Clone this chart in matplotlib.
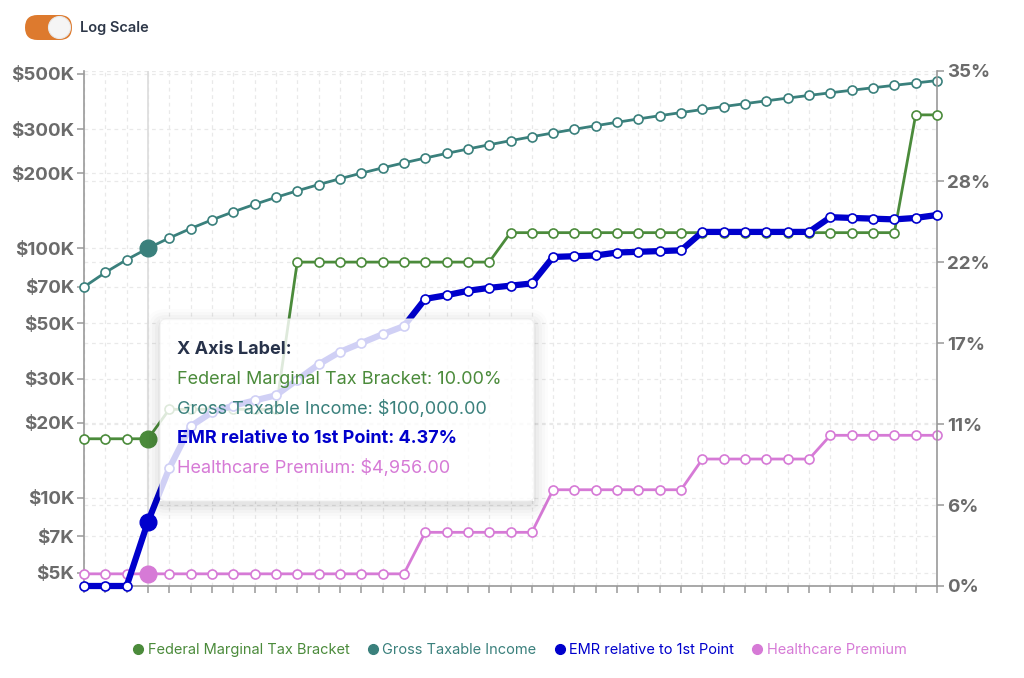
import matplotlib.pyplot as plt
from matplotlib.lines import Line2D
from matplotlib.patches import FancyBboxPatch, Circle, PathPatch
from matplotlib.path import Path
from matplotlib.transforms import IdentityTransform

plt.rcParams['font.family'] = ['Inter', 'DejaVu Sans']

# Series values (41 points along the x axis)
gross_income = [70000, 80000, 90000, 100000, 110000, 120000, 130000, 140000, 150000, 160000,
                170000, 180000, 190000, 200000, 210000, 220000, 230000, 240000, 250000, 260000,
                270000, 280000, 290000, 300000, 310000, 320000, 330000, 340000, 350000, 360000,
                370000, 380000, 390000, 400000, 410000, 420000, 430000, 440000, 450000, 460000,
                470000]
healthcare = [4956, 4956, 4956, 4956, 4956, 4956, 4956, 4956, 4956, 4956,
              4956, 4956, 4956, 4956, 4956, 4956, 7270, 7270, 7270, 7270,
              7270, 7270, 10770, 10770, 10770, 10770, 10770, 10770, 10770, 14300,
              14300, 14300, 14300, 14300, 14300, 17800, 17800, 17800, 17800, 17800,
              17800]
fed_bracket = [10, 10, 10, 10, 12, 12, 12, 12, 12, 12,
               22, 22, 22, 22, 22, 22, 22, 22, 22, 22,
               24, 24, 24, 24, 24, 24, 24, 24, 24, 24,
               24, 24, 24, 24, 24, 24, 24, 24, 24, 32,
               32]
emr = [0, 0, 0, 4.37, 8.0, 10.85, 11.8, 12.25, 12.6, 12.95,
       14.0, 15.05, 15.9, 16.5, 17.1, 17.65, 19.5, 19.75, 20.05, 20.25,
       20.4, 20.55, 22.35, 22.4, 22.45, 22.65, 22.7, 22.75, 22.8, 24.05,
       24.05, 24.05, 24.05, 24.05, 24.05, 25.05, 25.0, 24.95, 24.9, 25.0,
       25.2]
x = list(range(len(gross_income)))
hover_idx = 3

money_ticks = [5000, 7000, 10000, 20000, 30000, 50000, 70000, 100000, 200000, 300000, 500000]
money_labels = ['$5K', '$7K', '$10K', '$20K', '$30K', '$50K', '$70K', '$100K', '$200K', '$300K', '$500K']
pct_ticks = [0, 5.5, 11, 16.5, 22, 27.5, 35]
pct_labels = ['0%', '6%', '11%', '17%', '22%', '28%', '35%']

series_names = ['Federal Marginal Tax Bracket', 'Gross Taxable Income',
                'EMR relative to 1st Point', 'Healthcare Premium']
green, teal, blue, pink = '#4b8b3b', '#3a807c', '#0000cc', '#d67ad6'
series_colors = [green, teal, blue, pink]

tooltip_title = 'X Axis Label:'
tooltip_lines = ['Federal Marginal Tax Bracket: 10.00%', 'Gross Taxable Income: $100,000.00',
                 'EMR relative to 1st Point: 4.37%', 'Healthcare Premium: $4,956.00']

W, H = 1024, 678
def fx(v): return v / W
def fy(v): return 1 - v / H

fig = plt.figure(figsize=(W / 100, H / 100), dpi=100)
ax = fig.add_axes([fx(84), fy(586), fx(937) - fx(84), fy(70.7) - fy(586)])
ax2 = ax.twinx()

grid_kw = dict(color='#e9e9e9', lw=0.9, ls=(0, (3, 3)), zorder=0)
for xi in x:
    ax.axvline(xi, **grid_kw)
for t in money_ticks:
    ax.axhline(t, **grid_kw)
for t in pct_ticks:
    ax.plot([0, 1], [t / 35, t / 35], transform=ax.transAxes, **grid_kw)
ax.axvline(hover_idx, color='#dcdcdc', lw=1.2, zorder=1)

mk = dict(marker='o', ms=6.5, mfc='white', mew=1.2, clip_on=False)
ax.plot(x, gross_income, color=teal, lw=2, zorder=3, **mk)
ax.plot(x, healthcare, color=pink, lw=2, zorder=3, **mk)
ax2.plot(x, fed_bracket, color=green, lw=2, zorder=3, **mk)
ax2.plot(x, emr, color=blue, lw=4.5, zorder=4, **mk)

ax.plot(hover_idx, gross_income[hover_idx], 'o', ms=12, color=teal, zorder=5)
ax.plot(hover_idx, healthcare[hover_idx], 'o', ms=12, color=pink, zorder=5)
ax2.plot(hover_idx, fed_bracket[hover_idx], 'o', ms=12, color=green, zorder=5)
ax2.plot(hover_idx, emr[hover_idx], 'o', ms=12, color=blue, zorder=5)

ax.set_yscale('log')
ax.set_ylim(4430, 515000)
ax.set_xlim(0, len(x) - 1)
ax2.set_ylim(0, 35)
ax.set_yticks(money_ticks)
ax.set_yticklabels(money_labels)
ax.yaxis.set_minor_locator(plt.NullLocator())
ax2.set_yticks(pct_ticks)
ax2.set_yticklabels(pct_labels)
ax.set_xticks(x)
ax.set_xticklabels([])

tick_kw = dict(colors='#999999', labelcolor='#6b6b6b', labelsize=13.5, length=5, width=1.1)
ax.tick_params(axis='y', pad=2, **tick_kw)
ax2.tick_params(axis='y', pad=2, **tick_kw)
ax.tick_params(axis='x', colors='#999999', length=5, width=1.1)
for lab in ax.get_yticklabels() + ax2.get_yticklabels():
    lab.set_fontweight('bold')
for a in (ax, ax2):
    for s in a.spines.values():
        s.set_color('#999999')
        s.set_linewidth(1.2)
    a.spines['top'].set_visible(False)
ax.spines['right'].set_visible(False)
ax2.spines['left'].set_visible(False)
ax2.spines['bottom'].set_visible(False)

# tooltip (pixel coordinates, origin at bottom-left)
px = IdentityTransform()
box_x, box_y, box_w, box_h = 160, H - 501, 374, 182
inner = Path([(box_x, box_y), (box_x, box_y + box_h), (box_x + box_w, box_y + box_h),
              (box_x + box_w, box_y), (box_x, box_y)], closed=True)
for i, a in enumerate([0.03, 0.025, 0.02, 0.015, 0.01]):
    grow = 2 + i * 3
    outer = FancyBboxPatch((box_x - grow, box_y - grow - 4), box_w + 2 * grow, box_h + 2 * grow,
                           boxstyle='round,pad=0,rounding_size=%d' % (6 + grow)).get_path()
    ring = Path.make_compound_path(outer, inner)
    fig.add_artist(PathPatch(ring, transform=px, fc='black', ec='none', alpha=a, zorder=5))
fig.add_artist(FancyBboxPatch((box_x, box_y), box_w, box_h, boxstyle='round,pad=0,rounding_size=6',
                              transform=px, fc='white', ec='#eeeeee', lw=0.8, alpha=0.82, zorder=6))
fig.text(fx(177), fy(350), tooltip_title, fontsize=13, fontweight='bold', color='#27324a',
         va='center', zorder=7)
for i, (line, c) in enumerate(zip(tooltip_lines, series_colors)):
    fig.text(fx(177), fy(379.5 + i * 29.6), line, fontsize=13, color=c, va='center', zorder=7,
             fontweight='bold' if c == blue else 'normal')

# log-scale toggle
fig.add_artist(FancyBboxPatch((25, H - 40), 47, 25, boxstyle='round,pad=0,rounding_size=12.5',
                              transform=px, fc='#dd7a2e', ec='none', zorder=5))
fig.add_artist(Circle((59.5, H - 27.5), 11, transform=px, fc='#f5f5f5', ec='#e8e8e8', lw=0.8, zorder=6))
fig.text(fx(80), fy(28), 'Log Scale', fontsize=10.5, fontweight='semibold', color='#2d3748', va='center')

handles = [Line2D([], [], ls='none', marker='o', ms=7, color=c) for c in series_colors]
leg = fig.legend(handles, series_names, loc='center', bbox_to_anchor=(0.508, fy(650)), ncol=4,
                 frameon=False, fontsize=10.5, handlelength=0.6, handletextpad=0.35, columnspacing=1.3)
for txt, c in zip(leg.get_texts(), series_colors):
    txt.set_color(c)

fig.savefig('out.png', dpi=100, facecolor='white')
